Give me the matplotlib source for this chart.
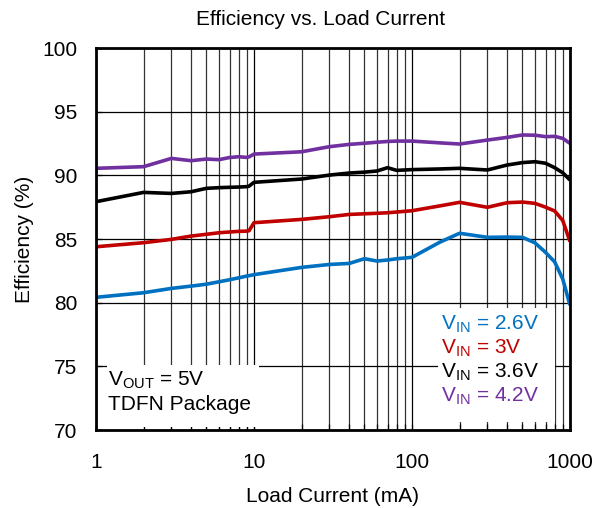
import matplotlib
matplotlib.use("Agg")
import matplotlib.pyplot as plt
from matplotlib.patches import Rectangle
from matplotlib.ticker import FixedLocator, FixedFormatter, LogLocator, NullFormatter

plt.rcParams['font.family'] = ['Liberation Sans', 'DejaVu Sans']
plt.rcParams['mathtext.fontset'] = 'custom'
plt.rcParams['mathtext.rm'] = 'Liberation Sans'
plt.rcParams['mathtext.it'] = 'Liberation Sans:italic'

# Corriente de carga (mA)
carga = [1, 2, 3, 4, 5, 6, 7, 8, 9, 9.3, 10, 20, 30, 40, 50, 60, 70, 80, 100,
         150, 200, 300, 400, 500, 600, 700, 800, 900, 1000]

# Eficiencia (%) para cada tension de entrada
ef_26 = [80.42, 80.78, 81.12, 81.30, 81.45, 81.64, 81.80, 81.95, 82.09, 82.12, 82.20,
         82.77, 83.00, 83.08, 83.45, 83.27, 83.35, 83.45, 83.56,
         84.75, 85.45, 85.13, 85.15, 85.13, 84.70, 83.95, 83.20, 81.85, 79.80]
ef_30 = [84.39, 84.71, 84.97, 85.23, 85.37, 85.49, 85.55, 85.60, 85.62, 85.65, 86.28,
         86.54, 86.75, 86.93, 86.98, 87.02, 87.06, 87.12, 87.22,
         87.60, 87.88, 87.49, 87.85, 87.90, 87.80, 87.50, 87.20, 86.45, 84.79]
ef_36 = [87.93, 88.66, 88.58, 88.71, 88.98, 89.03, 89.06, 89.08, 89.11, 89.15, 89.45,
         89.71, 90.02, 90.18, 90.25, 90.34, 90.60, 90.39, 90.45,
         90.50, 90.55, 90.42, 90.81, 91.00, 91.07, 90.95, 90.60, 90.20, 89.63]
ef_42 = [90.55, 90.68, 91.33, 91.15, 91.28, 91.23, 91.40, 91.46, 91.41, 91.45, 91.67,
         91.85, 92.25, 92.43, 92.52, 92.60, 92.66, 92.69, 92.69,
         92.55, 92.46, 92.77, 92.98, 93.17, 93.15, 93.04, 93.06, 92.90, 92.51]

series = [ef_26, ef_30, ef_36, ef_42]
colores = ['#0070C0', '#C00000', '#000000', '#7030A0']
etiquetas = [r'V$_{\mathrm{IN}}$ = 2.6V', r'V$_{\mathrm{IN}}$ = 3V',
             r'V$_{\mathrm{IN}}$ = 3.6V', r'V$_{\mathrm{IN}}$ = 4.2V']

y_ticks = [70, 75, 80, 85, 90, 95, 100]
x_ticks = [1, 10, 100, 1000]
x_tick_labels = ['1', '10', '100', '1000']

fig = plt.figure(figsize=(6.03, 5.08), dpi=100)
ax = fig.add_axes([96 / 603, 1 - 430 / 508, 474 / 603, 382 / 508])

ax.set_xscale('log')
ax.set_xlim(1, 1000)
ax.set_ylim(70, 100)

ax.xaxis.set_major_locator(FixedLocator(x_ticks))
ax.xaxis.set_major_formatter(FixedFormatter(x_tick_labels))
ax.xaxis.set_minor_locator(LogLocator(base=10, subs=range(2, 10)))
ax.xaxis.set_minor_formatter(NullFormatter())
ax.set_yticks(y_ticks)

ax.set_axisbelow(True)
ax.grid(True, which='major', color='black', linewidth=0.9)
ax.grid(True, which='minor', axis='x', color='#333333', linewidth=0.9)

ax.tick_params(which='both', direction='in', labelsize=15, width=0.9)
ax.tick_params(axis='x', which='both', length=4, pad=16.5)
ax.tick_params(axis='y', length=4, pad=13.5)
for sp in ax.spines.values():
    sp.set_linewidth(2)

# Cajas blancas detras de los textos
ax.add_patch(Rectangle((0.0225, 0.0086), 0.321, 0.1614, transform=ax.transAxes,
                       facecolor='white', edgecolor='none', zorder=1))
ax.add_patch(Rectangle((0.722, 0.0217), 0.246, 0.2973, transform=ax.transAxes,
                       facecolor='white', edgecolor='none', zorder=1))

for ys, c in zip(series, colores):
    ax.plot(carga, ys, color=c, linewidth=2.6, zorder=2, solid_capstyle='butt')

# Leyenda con texto de colores
for i, (txt, c) in enumerate(zip(etiquetas, colores)):
    ax.text(0.727, 0.262 - i * 0.0630, txt, color=c, fontsize=15,
            transform=ax.transAxes, ha='left', va='baseline', zorder=3)

ax.text(0.0253, 0.115, r'V$_{\mathrm{OUT}}$ = 5V', fontsize=15,
        transform=ax.transAxes, ha='left', va='baseline', zorder=3)
ax.text(0.0253, 0.0524, 'TDFN Package', fontsize=15,
        transform=ax.transAxes, ha='left', va='baseline', zorder=3)

fig.text(321 / 603, 1 - 25 / 508, 'Efficiency vs. Load Current', fontsize=15,
         ha='center', va='baseline')
fig.text(333 / 603, 1 - 502 / 508, 'Load Current (mA)', fontsize=15,
         ha='center', va='baseline')
fig.text(25 / 603, 1 - 239 / 508, 'Efficiency (%)', fontsize=15, rotation=90,
         ha='center', va='center')

fig.savefig('out.png', dpi=100)
